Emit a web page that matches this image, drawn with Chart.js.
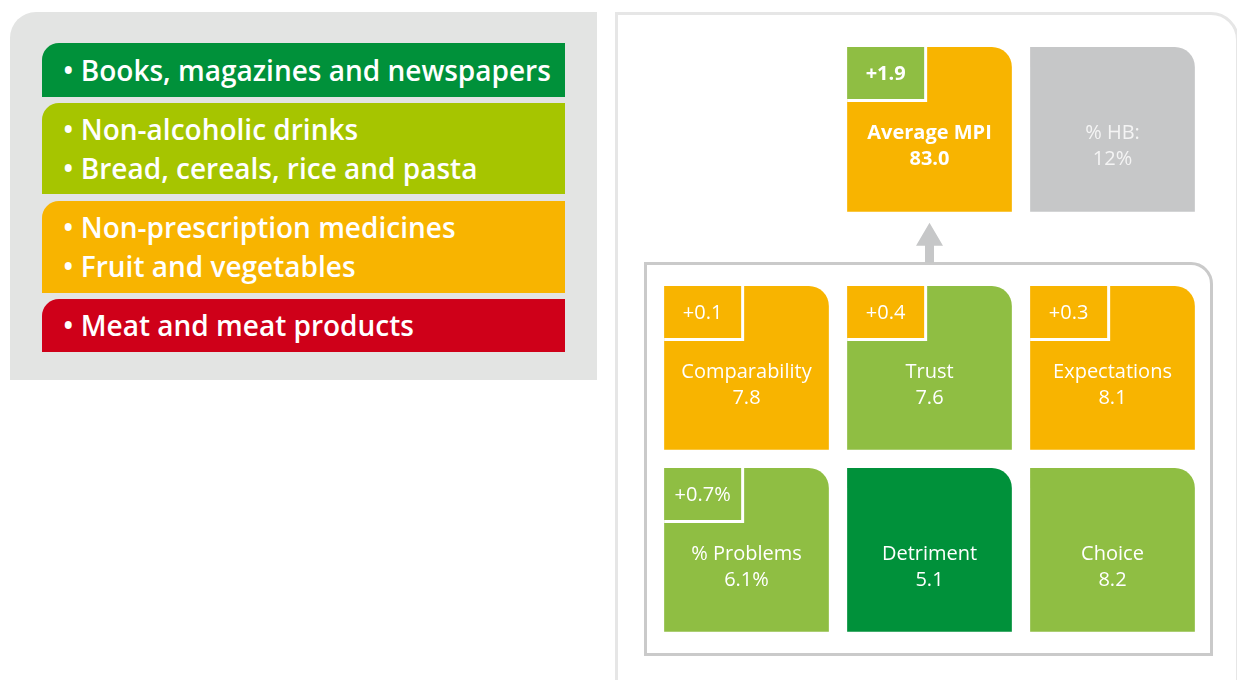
<!DOCTYPE html>
<html>
<head>
<meta charset="utf-8">
<script src="https://cdn.jsdelivr.net/npm/chart.js@4.4.0/dist/chart.umd.min.js"></script>
<style>
  body { margin: 0; width: 1237px; height: 680px; overflow: hidden; background: #fff; position: relative; font-family: 'Open Sans', sans-serif; }
  #legendPanel { position: absolute; left: 10px; top: 12px; width: 587px; height: 368px; background: #e3e4e3; border-top-left-radius: 26px; }
  .band { position: absolute; left: 32px; width: 523px; border-top-left-radius: 17px; color: #fff; font-size: 28px; font-weight: 600; line-height: 39px;
          display: flex; flex-direction: column; justify-content: center; padding-left: 21px; box-sizing: border-box; }
  #outerFrame { position: absolute; left: 615px; top: 12px; width: 624px; height: 700px; border: 3px solid #e6e6e6; border-top-right-radius: 28px; box-sizing: border-box; }
  #groupFrame { position: absolute; left: 644px; top: 262px; width: 569px; height: 394px; border: 3px solid #cacaca; border-top-right-radius: 22px; box-sizing: border-box; }
  canvas { position: absolute; left: 0; top: 0; }
</style>
</head>
<body>
<div id="legendPanel"></div>
<div id="outerFrame"></div>
<div id="groupFrame"></div>
<canvas id="summaryChart" width="1237" height="680"></canvas>
<canvas id="indicatorChart" width="1237" height="680"></canvas>
<script>
// Legend (market performance bands)
const legendBands = ['best', 'good', 'mid', 'poor'];
const legendItems = [
    ['Books, magazines and newspapers'],
    ['Non-alcoholic drinks', 'Bread, cereals, rice and pasta'],
    ['Non-prescription medicines', 'Fruit and vegetables'],
    ['Meat and meat products']
];

// Top tiles
const summaryLabels = ['', 'Average MPI', '% HB:'];
const summaryValues = [null, 83.0, 12];
const summaryChanges = [null, 1.9, null];
const summaryBands = [null, 'mid', 'grey'];
const summaryChangeBands = [null, 'good', null];

// Component tiles (two rows of three)
const indicatorLabels = ['Comparability', 'Trust', 'Expectations', '% Problems', 'Detriment', 'Choice'];
const indicatorValues = [7.8, 7.6, 8.1, 6.1, 5.1, 8.2];
const indicatorUnits = ['', '', '', '%', '', ''];
const indicatorChanges = [0.1, 0.4, 0.3, 0.7, null, null];
const indicatorBands = ['mid', 'good', 'mid', 'good', 'best', 'good'];
const indicatorChangeBands = ['mid', 'mid', 'mid', 'good', null, null];

const tileColors = { best: '#00913a', good: '#8fbe43', mid: '#f8b400', poor: '#cf0019', grey: '#c6c7c8' };
const legendColors = { best: '#00913a', good: '#a6c500', mid: '#f8b400', poor: '#cf0019' };

// legend bands in html
const bandLayout = [[31, 54], [91, 91], [189, 92], [287, 53]];
const panel = document.getElementById('legendPanel');
legendItems.forEach(function(lines, i) {
    const div = document.createElement('div');
    div.className = 'band';
    div.style.top = bandLayout[i][0] + 'px';
    div.style.height = bandLayout[i][1] + 'px';
    div.style.background = legendColors[legendBands[i]];
    lines.forEach(function(t) {
        const line = document.createElement('div');
        line.textContent = '\u2022 ' + t;
        div.appendChild(line);
    });
    panel.appendChild(div);
});

const tileSpan = 0.9;
const notchW = 77, notchH = 52;

function signed(v, unit) {
    return (v >= 0 ? '+' : '') + v.toFixed(1) + (unit || '');
}

// draws the change box, the texts and (optionally) the arrow on each tile
function makeTilePlugin(getTile, withArrow) {
    return {
        id: 'tiles',
        afterDatasetsDraw(chart) {
            const ctx = chart.ctx;
            ctx.save();
            chart.data.datasets.forEach(function(ds, di) {
                chart.getDatasetMeta(di).data.forEach(function(el, i) {
                    const tile = getTile(di, i);
                    if (!tile) return;
                    const left = el.x - el.width / 2;
                    const top = Math.min(el.y, el.base);
                    const bottom = Math.max(el.y, el.base);
                    ctx.textAlign = 'center';
                    ctx.textBaseline = 'middle';
                    if (tile.change) {
                        ctx.fillStyle = '#fff';
                        ctx.fillRect(left, top, notchW + 3, notchH + 3);
                        ctx.fillStyle = tile.changeColor;
                        ctx.fillRect(left, top, notchW, notchH);
                        ctx.fillStyle = '#fff';
                        ctx.font = (tile.bold ? 'bold 20px' : '20px') + ' "Open Sans"';
                        ctx.fillText(tile.change, left + notchW / 2, top + notchH / 2 + 1);
                    }
                    ctx.fillStyle = tile.textColor || '#fff';
                    ctx.font = (tile.bold ? 'bold 20px' : '20px') + ' "Open Sans"';
                    ctx.fillText(tile.label, el.x, top + 86);
                    ctx.fillText(tile.value, el.x, top + 112);
                    if (withArrow && tile.arrow) {
                        const cx = el.x;
                        ctx.fillStyle = '#c6c7c8';
                        ctx.beginPath();
                        ctx.moveTo(cx, bottom + 11);
                        ctx.lineTo(cx + 13.5, bottom + 34);
                        ctx.lineTo(cx + 4.5, bottom + 34);
                        ctx.lineTo(cx + 4.5, bottom + 51);
                        ctx.lineTo(cx - 4.5, bottom + 51);
                        ctx.lineTo(cx - 4.5, bottom + 34);
                        ctx.lineTo(cx - 13.5, bottom + 34);
                        ctx.closePath();
                        ctx.fill();
                    }
                });
            });
            ctx.restore();
        }
    };
}

function baseOptions(padding, rows) {
    return {
        responsive: false,
        animation: false,
        layout: { padding: padding },
        plugins: { legend: { display: false }, tooltip: { enabled: false } },
        scales: {
            x: { display: false, stacked: true },
            y: { display: false, min: 0, max: rows, reverse: true, stacked: false }
        }
    };
}

const tileShape = {
    borderRadius: { topLeft: 0, topRight: 20, bottomLeft: 0, bottomRight: 0 },
    borderSkipped: false,
    barPercentage: 0.9,
    categoryPercentage: 1
};

// top row: Average MPI and % HB
new Chart(document.getElementById('summaryChart'), {
    type: 'bar',
    data: {
        labels: summaryLabels,
        datasets: [Object.assign({
            data: summaryValues.map(v => v === null ? null : [0, tileSpan]),
            backgroundColor: summaryBands.map(b => b ? tileColors[b] : 'transparent')
        }, tileShape)]
    },
    options: baseOptions({ left: 655, right: 33, top: 47, bottom: 450 }, 1),
    plugins: [makeTilePlugin(function(di, i) {
        if (summaryValues[i] === null) return null;
        const isMpi = summaryChanges[i] !== null;
        return {
            label: summaryLabels[i],
            value: isMpi ? summaryValues[i].toFixed(1) : summaryValues[i] + '%',
            change: isMpi ? signed(summaryChanges[i]) : null,
            changeColor: isMpi ? tileColors[summaryChangeBands[i]] : null,
            bold: isMpi,
            arrow: isMpi,
            textColor: isMpi ? '#fff' : '#f4f4f4'
        };
    }, true)]
});

// component grid
const rowCount = 2, colCount = 3;
const gridDatasets = [];
for (let r = 0; r < rowCount; r++) {
    const idx = indicatorLabels.slice(r * colCount, (r + 1) * colCount).map((_, c) => r * colCount + c);
    gridDatasets.push(Object.assign({
        data: idx.map(() => [r, r + tileSpan]),
        backgroundColor: idx.map(k => tileColors[indicatorBands[k]])
    }, tileShape));
}

new Chart(document.getElementById('indicatorChart'), {
    type: 'bar',
    data: {
        labels: ['col1', 'col2', 'col3'],
        datasets: gridDatasets
    },
    options: baseOptions({ left: 655, right: 33, top: 286, bottom: 30 }, rowCount),
    plugins: [makeTilePlugin(function(di, i) {
        const k = di * colCount + i;
        const ch = indicatorChanges[k];
        return {
            label: indicatorLabels[k],
            value: indicatorValues[k].toFixed(1) + indicatorUnits[k],
            change: ch === null ? null : signed(ch, indicatorUnits[k]),
            changeColor: ch === null ? null : tileColors[indicatorChangeBands[k]],
            bold: false
        };
    }, false)]
});
</script>
</body>
</html>
